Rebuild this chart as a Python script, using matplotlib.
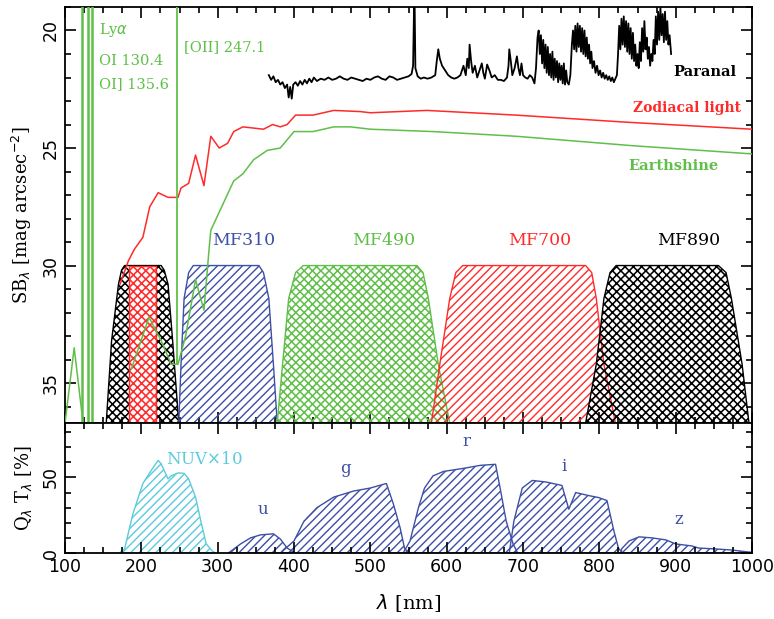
import matplotlib
matplotlib.use('Agg')
import matplotlib.pyplot as plt
import numpy as np
from matplotlib.ticker import MultipleLocator

GREEN = '#5fbf48'
RED = '#ff2a2a'
BLUE = '#3d4fa6'
CYAN = '#5ccbdc'

# --- oblohové spektrum Paranal [nm, mag/arcsec^2]
paranal_lam = [367, 370, 373, 376, 379, 382, 385, 388, 391, 393, 395, 397, 399, 402, 405,
               408, 411, 414, 417, 420, 423, 426, 430, 435, 440, 445, 450, 455, 460, 465,
               470, 475, 480, 485, 490, 495, 500, 505, 510, 515, 520, 525, 530, 535, 540,
               545, 550, 554, 556, 557.7, 559, 562, 566, 570, 575, 580, 585, 587, 589, 591,
               594, 598, 602, 606, 610, 614, 618, 622, 625, 627, 629, 630, 632, 634, 637,
               640, 643, 646, 648, 650, 653, 656, 659, 663, 667, 671, 675, 679, 681, 682,
               684, 686, 689, 692, 694, 696, 698, 700, 703, 706, 709, 712,
               715, 717, 719, 720.5, 722, 723.5, 725, 726.5, 728, 729.5, 731, 732.5, 734, 735.5,
               737, 738.5, 740, 741.5, 743, 744.5, 746, 747.5, 749, 750.5, 752, 753.5, 755, 756.5,
               758, 760, 762, 764, 765.5, 767, 768.5, 770, 771.5, 773, 774.5, 776, 777.5, 779,
               780.5, 782, 783.5, 785, 786.5, 788, 789.5, 791, 793, 795, 797, 799, 801, 803,
               805, 807, 809, 811, 813, 815, 817, 819, 821, 823, 824.5, 826, 827.5, 829,
               830.5, 832, 833.5, 835, 836.5, 838, 839.5, 841, 842.5, 844, 845.5, 847, 848.5, 850,
               851.5, 853, 854.5, 856, 857.5, 859, 860.5, 862, 863.5, 865, 866.5, 868, 869.5, 871,
               872.5, 874, 875.5, 877, 878.5, 880, 881.5, 883, 884.5, 886, 887.5, 889, 890.5, 892,
               894]
paranal_sb = [21.9, 22.1, 21.95, 22.2, 22.1, 22.3, 22.2, 22.45, 22.3, 22.85, 22.4, 22.9, 22.3, 22.2, 22.35,
              22.15, 22.3, 22.1, 22.25, 22.05, 22.2, 22.0, 22.15, 22.05, 22.1, 22.0, 22.1, 22.05, 21.95, 22.05,
              22.1, 22.0, 22.05, 22.1, 22.15, 22.05, 22.1, 22.0, 21.95, 22.05, 22.1, 21.95, 22.0, 22.1, 22.05,
              22.0, 21.95, 21.85, 21.5, 18.0, 21.6, 21.95, 22.05, 22.0, 22.05, 22.0, 21.9, 21.3, 20.8, 21.2,
              21.5, 21.7, 21.9, 22.0, 22.05, 22.0, 21.9, 21.5, 21.9, 21.2, 21.6, 20.6, 21.3, 21.8, 21.5,
              22.0, 21.7, 21.4, 21.8, 22.05, 21.45, 21.7, 22.0, 21.9, 22.1, 22.1, 22.15, 22.0, 21.5, 20.8,
              21.3, 21.9, 21.6, 21.1, 21.6, 21.9, 21.4, 21.9, 22.0, 22.05, 21.9, 22.0,
              22.25, 21.6, 20.3, 20.0, 21.0, 20.2, 21.4, 20.4, 21.6, 20.6, 21.8, 20.7, 21.9, 21.0,
              22.0, 20.9, 22.1, 21.2, 22.0, 21.3, 22.2, 21.4, 22.1, 21.5, 22.25, 21.4, 22.3, 21.7,
              22.2, 22.3, 21.9, 20.6, 20.0, 20.8, 19.8, 20.9, 19.7, 20.7, 19.8, 20.9, 19.9, 21.0,
              20.0, 21.1, 20.3, 21.2, 20.6, 21.4, 20.9, 21.6, 21.3, 21.8, 21.5, 21.9, 21.7, 22.0,
              21.8, 22.05, 21.9, 22.1, 21.95, 22.15, 22.0, 22.2, 22.05, 21.9, 21.0, 19.8, 20.8, 19.5,
              20.6, 19.4, 20.7, 19.6, 20.9, 19.7, 21.0, 19.9, 21.2, 20.1, 21.3, 20.6, 21.5, 21.0,
              21.6, 20.5, 21.3, 19.9, 20.9, 19.6, 20.8, 20.3, 21.2, 20.7, 21.5, 21.0, 21.3, 20.4,
              21.0, 19.4, 20.6, 19.2, 20.4, 19.0, 20.2, 19.3, 20.5, 19.2, 20.4, 19.6, 20.6, 20.2,
              21.0]

# --- zodiakální světlo
zodi_lam = [172, 183, 191, 202, 211, 222, 235, 248, 252, 262, 271, 282, 291, 302, 313, 321,
            333, 360, 372, 382, 391, 402, 425, 452, 487, 500, 574, 691, 835, 1000]
zodi_sb = [30.8, 29.8, 29.3, 28.8, 27.5, 26.9, 27.1, 27.1, 26.7, 26.5, 25.3, 26.6, 24.5, 25.0, 24.8, 24.3,
           24.1, 24.2, 24.0, 24.1, 24.0, 23.6, 23.6, 23.4, 23.45, 23.5, 23.4, 23.6, 23.9, 24.2]

# --- earthshine (kontinuum)
earth_lam = [100, 112, 124]
earth_sb = [36.7, 33.5, 36.8]
earth2_lam = [187, 210, 226, 239, 248, 258, 271, 282, 289, 291, 321, 333, 347, 365, 382,
              400, 425, 452, 474, 500, 582, 691, 843, 1000]
earth2_sb = [34.4, 32.2, 33.2, 34.2, 34.2, 33.0, 30.6, 31.9, 29.2, 28.5, 26.4, 26.1, 25.5, 25.1, 25.0,
             24.3, 24.3, 24.1, 24.1, 24.2, 24.3, 24.5, 24.9, 25.25]

# emisní čáry (Lya, OI 130.4, OI] 135.6) a [OII] 247.1
line_lam = [122, 130.4, 135.6]
oii_lam = 247.1

# --- filtry (horní panel)
f1_lam = [150, 154, 161, 170, 174, 178, 226, 230, 235, 241, 249, 252]
f1_sb = [38, 36.7, 33.2, 30.8, 30.2, 30, 30, 30.2, 30.8, 33.2, 36.7, 38]
f1red_lam = [184, 184, 219, 219]
f1red_sb = [38, 30, 30, 38]
mf310_lam = [248, 249, 252, 256, 262, 268, 354, 360, 367, 373, 378, 379]
mf310_sb = [38, 36.7, 34.2, 31.4, 30.3, 30, 30, 30.3, 31.4, 34.2, 36.7, 38]
mf490_lam = [376, 378, 385, 393, 402, 412, 561, 569, 576, 589, 604, 607]
mf490_sb = [38, 36.7, 34.2, 31.4, 30.3, 30, 30, 30.3, 31.4, 34.2, 36.7, 38]
mf700_lam = [578, 580, 591, 604, 612, 621, 782, 790, 796, 806, 821, 823]
mf700_sb = [38, 36.7, 34.2, 31.4, 30.3, 30, 30, 30.3, 31.4, 34.2, 36.7, 38]
mf890_lam = [780, 782, 796, 806, 814, 822, 956, 966, 973, 987, 996, 998]
mf890_sb = [38, 36.7, 34.2, 31.4, 30.3, 30, 30, 30.3, 31.4, 34.2, 36.7, 38]

# --- propustnosti (dolní panel) [%]
nuv_lam = [171, 178, 189, 202, 213, 222, 226, 235, 239, 248, 256, 262, 271, 278, 285, 293, 297]
nuv_qt = [0, 2.7, 26, 46, 54.7, 61.3, 59, 49, 51, 53, 52.7, 49, 37, 21, 6, 1.3, 0]
u_lam = [314, 330, 343, 356, 373, 382, 391, 400]
u_qt = [0, 6, 10, 12, 12.7, 9.3, 3.3, 0.5]
g_lam = [385, 400, 413, 430, 452, 478, 500, 521, 530, 539, 545, 552]
g_qt = [1.3, 8, 21, 30, 37, 41, 43, 46, 32.7, 16.7, 2.7, 0]
r_lam = [543, 552, 563, 571, 582, 596, 622, 644, 664, 670, 678, 687, 693]
r_qt = [0, 8, 30, 43, 51, 54, 56, 58, 58.7, 43, 21, 6, 0]
i_lam = [682, 688, 699, 712, 730, 751, 760, 769, 786, 799, 810, 819, 825, 830]
i_qt = [0, 21, 43, 48, 47, 44.7, 29, 40, 38, 36.7, 34.7, 14.7, 3.3, 0]
z_lam = [829, 839, 852, 869, 887, 900, 921, 930, 952, 973, 995, 1000]
z_qt = [2.7, 8, 10.7, 10, 8.7, 6, 4.7, 3.3, 2.7, 2, 0.7, 0.5]

fig = plt.figure(figsize=(7.74, 6.19), dpi=100)
ax1 = fig.add_axes([0.084, 0.3166, 0.8876, 0.6721])
ax2 = fig.add_axes([0.084, 0.1066, 0.8876, 0.21])

serif = 'DejaVu Serif'

# filtry
def filt(ax, lam, sb, col, hatch, hlw):
    plt.rcParams['hatch.linewidth'] = hlw
    ax.fill_between(lam, sb, 40, facecolor='none', edgecolor=col, hatch=hatch, lw=1.0, zorder=2)

filt(ax1, f1_lam, f1_sb, 'black', 'xxxx', 1.15)
ax1.fill(f1red_lam, f1red_sb, facecolor='white', edgecolor='none', zorder=2.5)
ax1.fill(f1red_lam, f1red_sb, facecolor='none', edgecolor=RED, hatch='xxxx', lw=1.0, zorder=2.6)
filt(ax1, mf310_lam, mf310_sb, BLUE, '////', 1.0)
filt(ax1, mf490_lam, mf490_sb, GREEN, 'xxxx', 1.1)
filt(ax1, mf700_lam, mf700_sb, RED, '////', 1.0)
filt(ax1, mf890_lam, mf890_sb, 'black', 'xxxx', 1.15)
plt.rcParams['hatch.linewidth'] = 1.0

# křivky
ax1.plot(zodi_lam, zodi_sb, color=RED, lw=1.1, zorder=3)
ax1.plot(earth_lam, earth_sb, color=GREEN, lw=1.1, zorder=3)
ax1.plot(earth2_lam, earth2_sb, color=GREEN, lw=1.1, zorder=3)
for l in line_lam:
    ax1.plot([l, l], [40, 18], color=GREEN, lw=1.8, zorder=3)
ax1.plot([oii_lam, oii_lam], [34.2, 18], color=GREEN, lw=1.3, zorder=3)
ax1.plot(paranal_lam, paranal_sb, color='black', lw=1.3, zorder=3)

ax1.set_xlim(100, 1000)
ax1.set_ylim(36.7, 19.0)

# popisky
tkw = dict(family=serif, fontsize=10.5)
ax1.text(145, 20.0, r'Ly$\alpha$', color=GREEN, va='center', **tkw)
ax1.text(145, 21.3, 'OI 130.4', color=GREEN, va='center', **tkw)
ax1.text(145, 22.3, 'OI] 135.6', color=GREEN, va='center', **tkw)
ax1.text(256, 20.7, '[OII] 247.1', color=GREEN, va='center', **tkw)
ax1.text(980, 21.75, 'Paranal', color='black', ha='right', va='center', fontweight='bold', **tkw)
ax1.text(985, 23.3, 'Zodiacal light', color=RED, ha='right', va='center', fontweight='bold',
         family=serif, fontsize=10)
ax1.text(956, 25.75, 'Earthshine', color=GREEN, ha='right', va='center', fontweight='bold', **tkw)
fkw = dict(family=serif, fontsize=12.5, ha='center', va='center')
ax1.text(334, 28.95, 'MF310', color=BLUE, **fkw)
ax1.text(518, 28.95, 'MF490', color=GREEN, **fkw)
ax1.text(722, 28.95, 'MF700', color=RED, **fkw)
ax1.text(917, 28.95, 'MF890', color='black', **fkw)

# dolní panel
for lam, qt, col in [(nuv_lam, nuv_qt, CYAN), (u_lam, u_qt, BLUE), (g_lam, g_qt, BLUE),
                     (r_lam, r_qt, BLUE), (i_lam, i_qt, BLUE), (z_lam, z_qt, BLUE)]:
    ax2.fill_between(lam, 0, qt, facecolor='none', edgecolor=col, hatch='////', lw=1.0)

bkw = dict(family=serif, fontsize=12, ha='center', va='center')
ax2.text(283, 62, r'NUV$\times$10', color=CYAN, **bkw)
ax2.text(359, 29, 'u', color=BLUE, **bkw)
ax2.text(467, 56, 'g', color=BLUE, **bkw)
ax2.text(626, 74, 'r', color=BLUE, **bkw)
ax2.text(754, 57, 'i', color=BLUE, **bkw)
ax2.text(904, 22, 'z', color=BLUE, **bkw)

ax2.set_xlim(100, 1000)
ax2.set_ylim(0, 86)

for ax in (ax1, ax2):
    ax.xaxis.set_major_locator(MultipleLocator(100))
    ax.xaxis.set_minor_locator(MultipleLocator(25))
    ax.tick_params(which='both', direction='in', top=True, right=True, width=1.2,
                   labelsize=12.5)
    ax.tick_params(which='major', length=8)
    ax.tick_params(which='minor', length=4)
    for s in ax.spines.values():
        s.set_linewidth(1.3)

ax1.yaxis.set_major_locator(MultipleLocator(5))
ax1.yaxis.set_minor_locator(MultipleLocator(1))
ax1.tick_params(labelbottom=False)
ax2.yaxis.set_major_locator(MultipleLocator(50))
ax2.yaxis.set_minor_locator(MultipleLocator(10))
for ax in (ax1, ax2):
    for lbl in ax.get_yticklabels():
        lbl.set_rotation(90)
        lbl.set_va('center')

ax1.set_ylabel(r'SB$_\lambda$ [mag arcsec$^{-2}$]', family=serif, fontsize=13, labelpad=6)
ax2.set_ylabel(r'Q$_\lambda$ T$_\lambda$ [%]', family=serif, fontsize=13, labelpad=6)
ax2.set_xlabel(r'$\lambda$ [nm]', family=serif, fontsize=14, labelpad=12)

fig.savefig('out.png', dpi=100)
